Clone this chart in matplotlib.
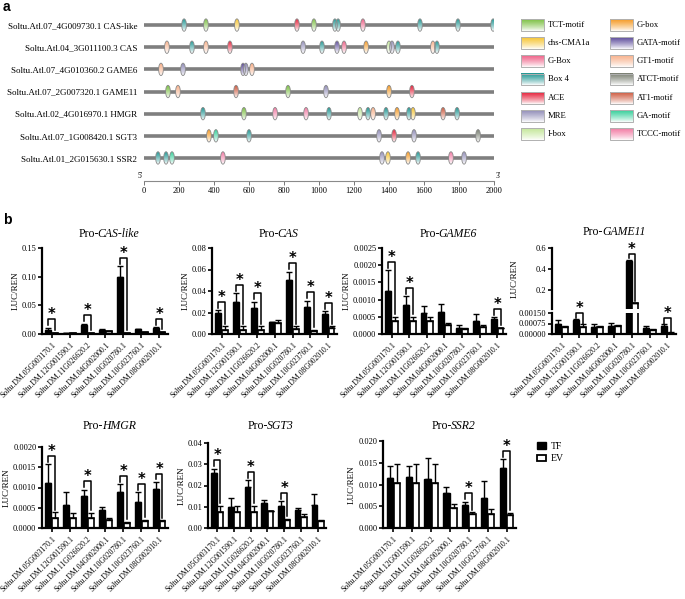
import numpy as np
import matplotlib
matplotlib.use("Agg")
import matplotlib.pyplot as plt
from matplotlib.patches import Ellipse, Patch
from matplotlib.colors import LinearSegmentedColormap
from matplotlib.offsetbox import TextArea, HPacker, AnchoredOffsetbox

plt.rcParams['font.family'] = ['Liberation Serif', 'DejaVu Serif']

# ---------------- panel a data ----------------
promoter_labels = [
    "Soltu.Atl.07_4G009730.1 CAS-like",
    "Soltu.Atl.04_3G011100.3 CAS",
    "Soltu.Atl.07_4G010360.2 GAME6",
    "Soltu.Atl.07_2G007320.1 GAME11",
    "Soltu.Atl.02_4G016970.1 HMGR",
    "Soltu.Atl.07_1G008420.1 SGT3",
    "Soltu.Atl.01_2G015630.1 SSR2",
]

motif_names = ["TCT-motif", "chs-CMA1a", "G-Box", "Box 4", "ACE", "MRE", "I-box",
               "G-box", "GATA-motif", "GT1-motif", "ATCT-motif", "AT1-motif", "GA-motif", "TCCC-motif"]
motif_colors = ["#7cc043", "#f6c431", "#ef5f86", "#1f9592", "#e5213a", "#918db8", "#c4e79a",
                "#f59a25", "#5c4b9b", "#f8b08a", "#787e70", "#cd5a3f", "#36cf9a", "#f27aa3"]

cas_like_pos = [229, 354, 531, 874, 971, 1091, 1109, 1251, 1577, 1794, 1995]
cas_like_kind = ["Box 4", "TCT-motif", "chs-CMA1a", "ACE", "TCT-motif", "Box 4", "Box 4",
                 "G-Box", "Box 4", "Box 4", "Box 4"]
cas_pos = [131, 274, 354, 491, 909, 1017, 1103, 1143, 1269, 1400, 1417, 1451, 1651, 1674]
cas_kind = ["GT1-motif", "Box 4", "GT1-motif", "ACE", "MRE", "Box 4", "GATA-motif", "G-Box",
            "G-box", "I-box", "MRE", "Box 4", "GT1-motif", "Box 4"]
game6_pos = [97, 223, 566, 582, 617]
game6_kind = ["GT1-motif", "MRE", "GATA-motif", "MRE", "GT1-motif"]
game11_pos = [137, 194, 526, 823, 1040, 1400, 1531]
game11_kind = ["TCT-motif", "GT1-motif", "AT1-motif", "TCT-motif", "MRE", "G-box", "ACE"]
hmgr_pos = [337, 571, 749, 926, 1057, 1234, 1280, 1309, 1383, 1446, 1514, 1537, 1709, 1789]
hmgr_kind = ["Box 4", "TCT-motif", "TCCC-motif", "TCCC-motif", "Box 4", "I-box", "Box 4",
             "GT1-motif", "Box 4", "G-box", "Box 4", "chs-CMA1a", "AT1-motif", "Box 4"]
sgt3_pos = [371, 411, 600, 1343, 1429, 1543, 1909]
sgt3_kind = ["G-box", "GA-motif", "Box 4", "MRE", "ACE", "MRE", "ATCT-motif"]
ssr2_pos = [80, 126, 160, 451, 1360, 1394, 1509, 1566, 1754, 1829]
ssr2_kind = ["Box 4", "Box 4", "GA-motif", "TCCC-motif", "MRE", "chs-CMA1a", "G-box",
             "Box 4", "TCCC-motif", "MRE"]

motif_pos = [cas_like_pos, cas_pos, game6_pos, game11_pos, hmgr_pos, sgt3_pos, ssr2_pos]
motif_kind = [cas_like_kind, cas_kind, game6_kind, game11_kind, hmgr_kind, sgt3_kind, ssr2_kind]
scale_ticks = list(range(0, 2001, 200))

# ---------------- panel b data ----------------
genes_b = ["Soltu.DM.05G003170.1", "Soltu.DM.12G001590.1", "Soltu.DM.11G026620.2",
           "Soltu.DM.04G002000.1", "Soltu.DM.10G020780.1", "Soltu.DM.10G023760.1",
           "Soltu.DM.08G002010.1"]

cas_like_tf = [0.007, 0.002, 0.016, 0.007, 0.100, 0.008, 0.010]
cas_like_tf_err = [0.004, 0.0005, 0.002, 0.001, 0.018, 0.001, 0.002]
cas_like_ev = [0.002, 0.002, 0.002, 0.005, 0.002, 0.003, 0.003]
cas_like_ev_err = [0.0005, 0.0005, 0.0005, 0.001, 0.0005, 0.0005, 0.0005]
cas_like_sig = [0, 2, 4, 6]

cas_tf = [0.020, 0.030, 0.024, 0.011, 0.050, 0.025, 0.019]
cas_tf_err = [0.002, 0.008, 0.006, 0.0005, 0.008, 0.006, 0.002]
cas_ev = [0.004, 0.004, 0.004, 0.010, 0.005, 0.003, 0.006]
cas_ev_err = [0.003, 0.003, 0.003, 0.003, 0.002, 0.001, 0.001]
cas_sig = [0, 1, 2, 4, 5, 6]

game6_tf = [0.00125, 0.00085, 0.0006, 0.00065, 0.00018, 0.00037, 0.00043]
game6_tf_err = [0.0006, 0.00025, 0.0002, 0.00022, 0.00008, 0.0002, 0.00006]
game6_ev = [0.00037, 0.00037, 0.00037, 0.00026, 0.00015, 0.0002, 0.00016]
game6_ev_err = [0.00013, 0.00013, 0.00013, 0.00006, 0.00002, 0.00005, 0.00002]
game6_sig = [0, 1, 6]

game11_tf = [0.0007, 0.001, 0.0005, 0.0006, 0.48, 0.0004, 0.0006]
game11_tf_err = [0.0003, 0.0001, 0.0002, 0.0002, 0.005, 0.0002, 0.0001]
game11_ev = [0.0005, 0.0005, 0.0005, 0.0006, 0.078, 0.0003, 0.0001]
game11_ev_err = [0.0001, 0.0002, 0.0001, 0.00005, 0.002, 0.00005, 0.00002]
game11_sig_low = [1, 6]
game11_sig_high = [4]

hmgr_tf = [0.0011, 0.00058, 0.0008, 0.00044, 0.0009, 0.00063, 0.00097]
hmgr_tf_err = [0.00047, 0.0003, 0.00015, 0.00008, 0.00018, 0.00026, 0.00017]
hmgr_ev = [0.00025, 0.00025, 0.00025, 0.0002, 0.00012, 0.00017, 0.00017]
hmgr_ev_err = [0.00014, 0.00013, 0.00013, 0.00005, 0.00003, 0.00003, 0.00002]
hmgr_sig = [0, 2, 4, 5, 6]

sgt3_tf = [0.026, 0.010, 0.0195, 0.012, 0.0105, 0.0085, 0.011]
sgt3_tf_err = [0.002, 0.004, 0.003, 0.001, 0.002, 0.001, 0.005]
sgt3_ev = [0.0075, 0.0075, 0.0075, 0.0078, 0.004, 0.005, 0.0033]
sgt3_ev_err = [0.003, 0.003, 0.003, 0.0003, 0.0004, 0.0015, 0.0005]
sgt3_sig = [0, 2, 4]

ssr2_tf = [0.0114, 0.0118, 0.0112, 0.0081, 0.0052, 0.0068, 0.0138]
ssr2_tf_err = [0.0028, 0.0025, 0.005, 0.0013, 0.0008, 0.0041, 0.002]
ssr2_ev = [0.0103, 0.0103, 0.0103, 0.0047, 0.0033, 0.0032, 0.003]
ssr2_ev_err = [0.0045, 0.0045, 0.0045, 0.0008, 0.0003, 0.0012, 0.0005]
ssr2_sig = [4, 6]

W, H = 685, 599
fig = plt.figure(figsize=(W / 100, H / 100), dpi=100)


def px_axes(x0, y0, x1, y1):
    return fig.add_axes([x0 / W, 1 - y1 / H, (x1 - x0) / W, (y1 - y0) / H])


color_of = dict(zip(motif_names, motif_colors))
grad = (np.linspace(1, 0, 64) ** 0.8)[:, None]


def gradient_cmap(c):
    return LinearSegmentedColormap.from_list("g", ["white", c])


# ---------------- panel a ----------------
ax_a = px_axes(144, 14, 494, 181)
mw, mh = 27, 0.56
for row, (positions, kinds) in enumerate(zip(motif_pos, motif_kind)):
    ax_a.plot([0, 2015], [row, row], color="#7f7f7f", lw=2.6, solid_capstyle="butt", zorder=1)
    for p, k in zip(positions, kinds):
        im = ax_a.imshow(grad, cmap=gradient_cmap(color_of[k]), vmin=0, vmax=1, aspect="auto",
                         extent=(p - mw / 2, p + mw / 2, row + mh / 2, row - mh / 2),
                         zorder=2, interpolation="bilinear")
        el = Ellipse((p, row), mw, mh, facecolor="none", edgecolor="#8a8a8a", lw=0.6, zorder=3)
        ax_a.add_patch(el)
        im.set_clip_path(el)
ax_a.set_xlim(0, 2000)
ax_a.set_ylim(7.04, -0.5)
ax_a.set_yticks(range(len(promoter_labels)))
ax_a.set_yticklabels(promoter_labels, fontsize=6.5)
ax_a.tick_params(axis="y", length=0, pad=5)
ax_a.set_xticks(scale_ticks)
ax_a.tick_params(axis="x", labelsize=6, length=3, width=0.7, color="#777777", pad=1.5)
for s in ["top", "right", "left"]:
    ax_a.spines[s].set_visible(False)
ax_a.spines["bottom"].set_color("#8a8a8a")
ax_a.spines["bottom"].set_linewidth(0.8)
ax_a.annotate("5'", xy=(0, 0), xycoords=("data", "axes fraction"), xytext=(-1, 1),
              textcoords="offset points", ha="right", va="bottom", fontsize=5.5)
ax_a.annotate("3'", xy=(2000, 0), xycoords=("data", "axes fraction"), xytext=(1, 1),
              textcoords="offset points", ha="left", va="bottom", fontsize=5.5)

# motif legend
ax_l = px_axes(515, 14, 685, 142)
ax_l.axis("off")
for n, (name, c) in enumerate(zip(motif_names, motif_colors)):
    col, r = divmod(n, 7)
    left = 6 + col * 89
    ax_l.imshow(grad, cmap=gradient_cmap(c), vmin=0, vmax=1, aspect="auto",
                extent=(left, left + 23, r + 0.33, r - 0.33), interpolation="bilinear")
    ax_l.add_patch(plt.Rectangle((left, r - 0.33), 23, 0.66, fill=False, ec="#b0b0b0", lw=0.7))
    ax_l.text(left + 27, r, name, fontsize=6.2, va="center", ha="left")
ax_l.set_xlim(0, 170)
ax_l.set_ylim(6.44, -0.605)

# ---------------- panel b ----------------
OFF = 0.19
BW = 0.33
x = np.arange(len(genes_b))


def style_axes(ax, ymax, ticks, fmt, show_x=True):
    ax.set_xlim(-0.55, len(genes_b) - 0.5)
    for s in ["top", "right"]:
        ax.spines[s].set_visible(False)
    ax.spines["left"].set_linewidth(1.6)
    ax.spines["bottom"].set_linewidth(1.6)
    ax.set_yticks(ticks)
    ax.set_yticklabels([fmt.format(t) for t in ticks], fontsize=6)
    ax.tick_params(axis="y", length=3, width=1.2, pad=1)
    if show_x:
        ax.set_xticks(x)
        ax.set_xticklabels(genes_b, rotation=45, ha="right", rotation_mode="anchor", fontsize=5.6)
        ax.tick_params(axis="x", length=3, width=1.2, pad=2)
    else:
        ax.spines["bottom"].set_visible(False)
        ax.set_xticks([])


def draw_bars(ax, tf, tf_err, ev, ev_err, sig, ymax, frac=0.07):
    ax.bar(x - OFF, tf, BW, color="black", edgecolor="black", lw=1, zorder=2)
    ax.bar(x + OFF, ev, BW, color="white", edgecolor="black", lw=1.2, zorder=2)
    ax.errorbar(x - OFF, tf, yerr=[np.zeros(len(tf)), tf_err], fmt="none", ecolor="black",
                elinewidth=1, capsize=2, capthick=1, zorder=3)
    ax.errorbar(x + OFF, ev, yerr=[np.zeros(len(ev)), ev_err], fmt="none", ecolor="black",
                elinewidth=1, capsize=2, capthick=1, zorder=3)
    for i in sig:
        t_top = tf[i] + tf_err[i] + 0.03 * ymax
        e_top = ev[i] + ev_err[i] + 0.03 * ymax
        top = max(t_top, e_top) + frac * ymax
        ax.plot([i - OFF, i - OFF, i + OFF, i + OFF], [t_top, top, top, e_top],
                color="black", lw=1.1, clip_on=False, zorder=4)
        ax.text(i, top, "*", ha="center", va="baseline", fontsize=10.5, fontweight="bold",
                family="DejaVu Sans", clip_on=False)


def add_title(cx, ty, gene):
    t1 = TextArea("Pro-", textprops=dict(fontsize=8.5))
    t2 = TextArea(gene, textprops=dict(fontsize=8.5, style="italic"))
    box = HPacker(children=[t1, t2], align="baseline", pad=0, sep=-0.8)
    ab = AnchoredOffsetbox(loc="center", child=box, frameon=False, pad=0, borderpad=0,
                           bbox_to_anchor=(cx / W, 1 - ty / H), bbox_transform=fig.transFigure)
    fig.add_artist(ab)


panels = [
    ((42, 248, 168, 334), "CAS-like", cas_like_tf, cas_like_tf_err, cas_like_ev, cas_like_ev_err,
     cas_like_sig, 0.15, [0, 0.05, 0.10, 0.15], "{:.2f}", 234),
    ((212, 248, 337, 334), "CAS", cas_tf, cas_tf_err, cas_ev, cas_ev_err,
     cas_sig, 0.08, [0, 0.02, 0.04, 0.06, 0.08], "{:.2f}", 234),
    ((382, 248, 506, 334), "GAME6", game6_tf, game6_tf_err, game6_ev, game6_ev_err,
     game6_sig, 0.0025, [0, 0.0005, 0.0010, 0.0015, 0.0020, 0.0025], "{:.4f}", 234),
    ((42, 447, 168, 528), "HMGR", hmgr_tf, hmgr_tf_err, hmgr_ev, hmgr_ev_err,
     hmgr_sig, 0.0020, [0, 0.0005, 0.0010, 0.0015, 0.0020], "{:.4f}", 426),
    ((208, 443, 326, 528), "SGT3", sgt3_tf, sgt3_tf_err, sgt3_ev, sgt3_ev_err,
     sgt3_sig, 0.04, [0, 0.01, 0.02, 0.03, 0.04], "{:.2f}", 426),
    ((383, 441, 516, 528), "SSR2", ssr2_tf, ssr2_tf_err, ssr2_ev, ssr2_ev_err,
     ssr2_sig, 0.020, [0, 0.005, 0.010, 0.015, 0.020], "{:.3f}", 426),
]

for box, gene, tf, tfe, ev, eve, sig, ymax, ticks, fmt, ty in panels:
    ax = px_axes(*box)
    draw_bars(ax, tf, tfe, ev, eve, sig, ymax)
    ax.set_ylim(0, ymax)
    style_axes(ax, ymax, ticks, fmt)
    ax.set_ylabel("LUC/REN", fontsize=6.5, labelpad=1.5)
    add_title((box[0] + box[2]) / 2 + 4, ty, gene)

# GAME11 with broken axis
ax_hi = px_axes(552, 248, 676, 309)
draw_bars(ax_hi, game11_tf, game11_tf_err, game11_ev, game11_ev_err, game11_sig_high, 0.6)
ax_hi.set_ylim(0.02, 0.6)
style_axes(ax_hi, 0.6, [0.2, 0.4, 0.6], "{:.1f}", show_x=False)
ax_hi.set_ylabel("LUC/REN", fontsize=6.5, labelpad=12)

ax_lo = px_axes(552, 313, 676, 334)
draw_bars(ax_lo, game11_tf, game11_tf_err, game11_ev, game11_ev_err, game11_sig_low, 0.0015, frac=0.25)
ax_lo.set_ylim(0, 0.0015)
style_axes(ax_lo, 0.0015, [0, 0.00075, 0.0015], "{:.5f}")
add_title(614, 232, "GAME11")

fig.legend(handles=[Patch(facecolor="black", edgecolor="black"),
                    Patch(facecolor="white", edgecolor="black", lw=1.3)],
           labels=["TF", "EV"], loc="upper left", bbox_to_anchor=(532 / W, 1 - 437 / H),
           frameon=False, fontsize=7, handlelength=0.9, handleheight=0.6,
           labelspacing=0.35, handletextpad=0.5, borderpad=0)

fig.text(3 / W, 1 - 7 / H, "a", fontsize=10, fontweight="bold", family="Liberation Sans", va="center")
fig.text(3 / W, 1 - 220 / H, "b", fontsize=10, fontweight="bold", family="Liberation Sans", va="center")

fig.savefig("out.png", dpi=100)
